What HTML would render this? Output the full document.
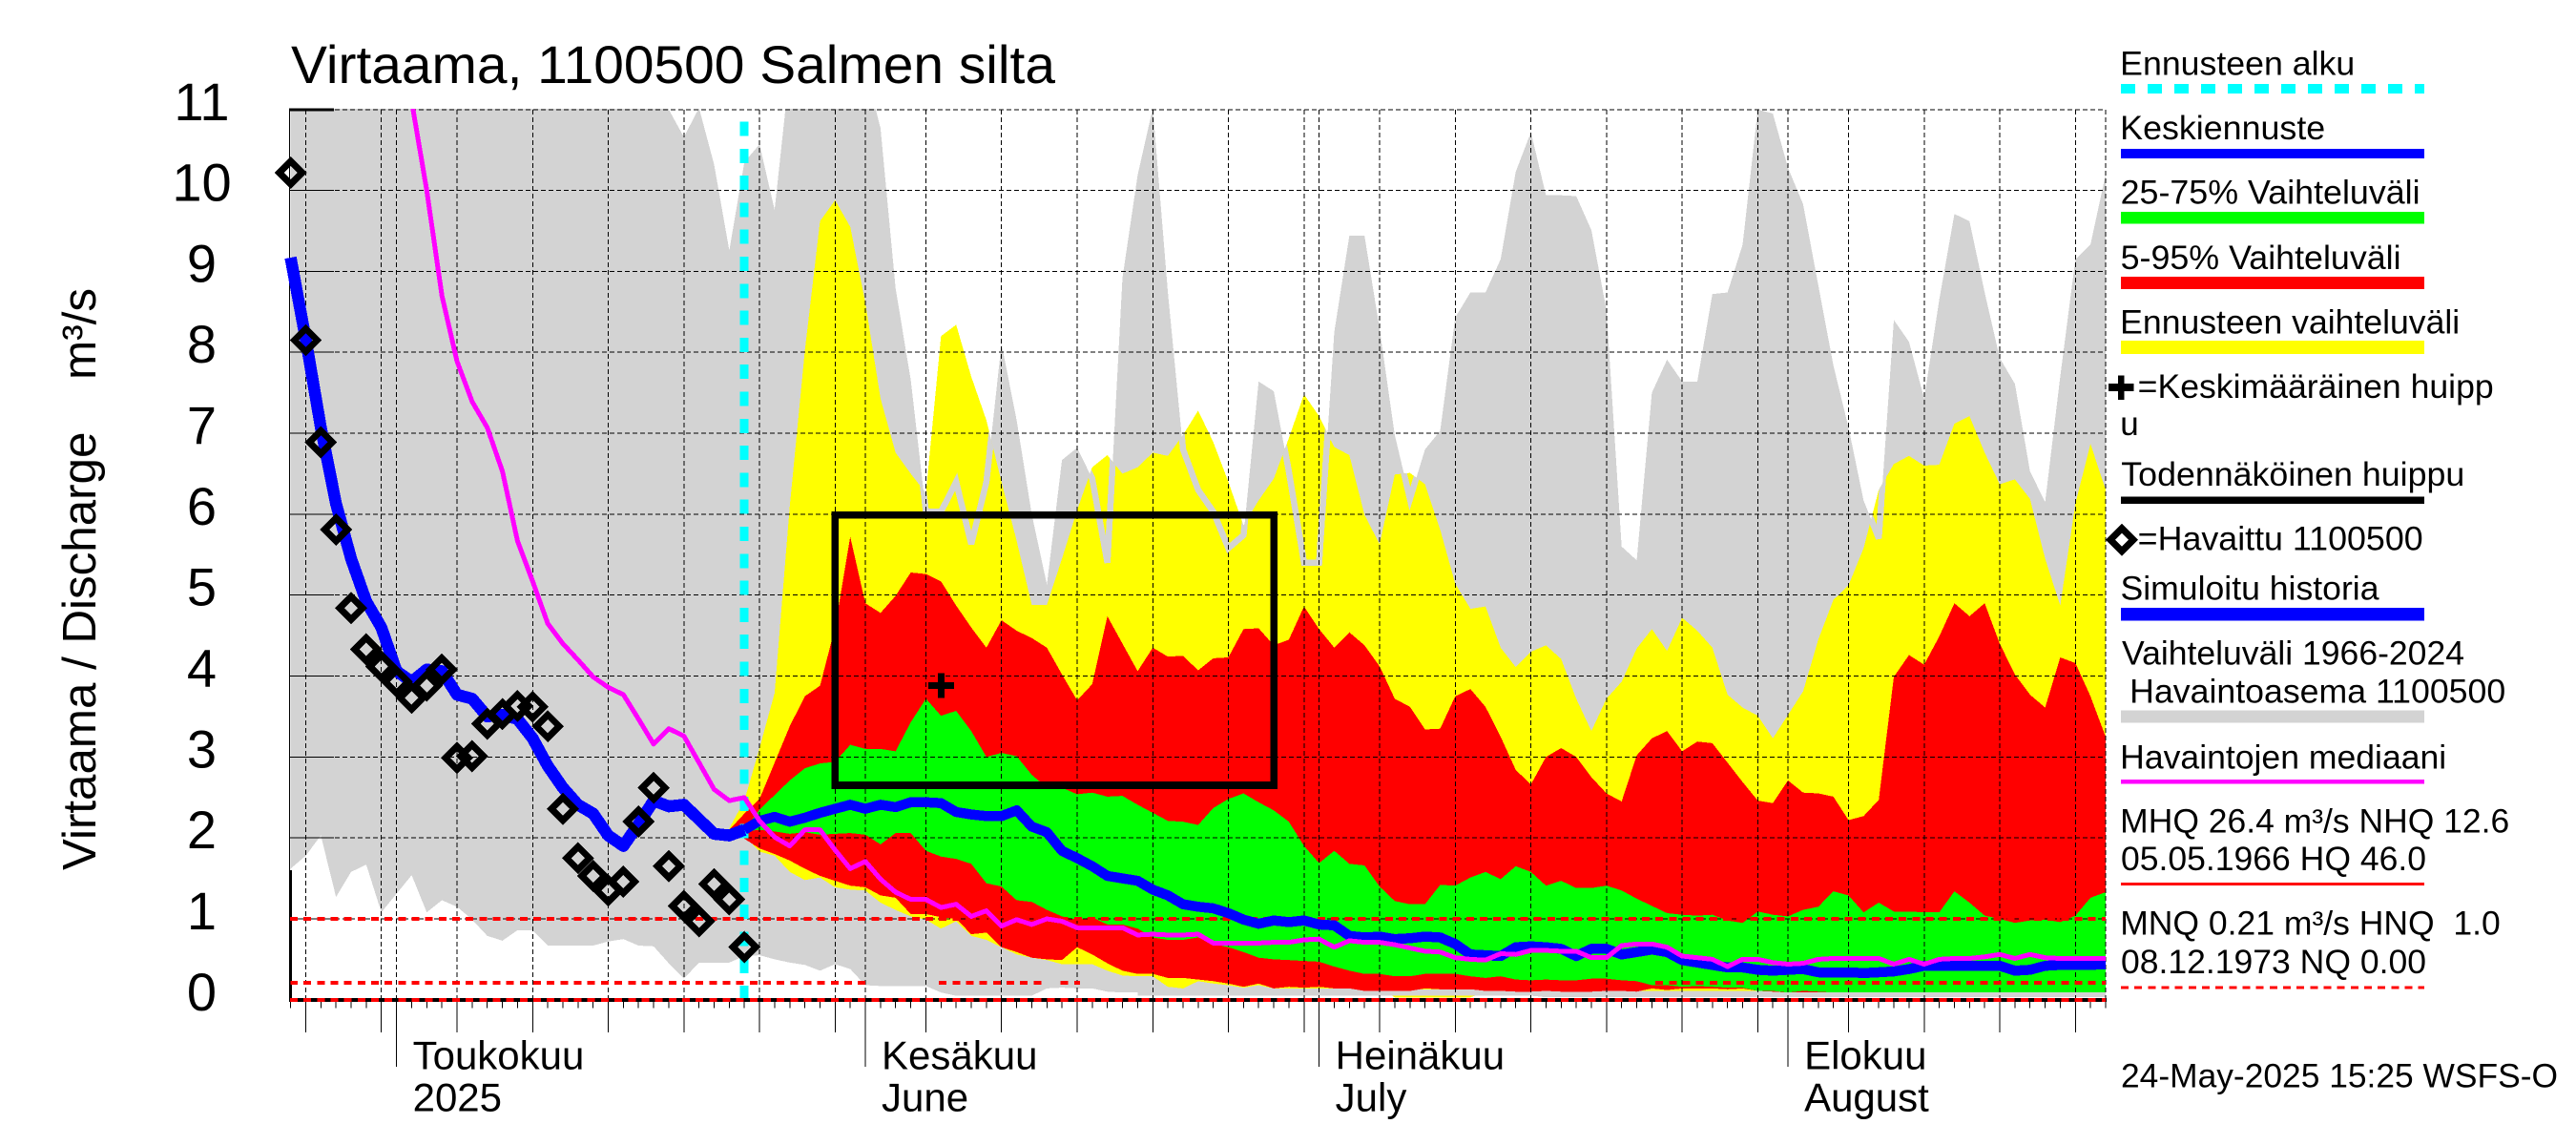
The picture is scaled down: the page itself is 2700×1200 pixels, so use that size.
<!DOCTYPE html>
<html lang="fi">
<head>
<meta charset="utf-8">
<title>Virtaama, 1100500 Salmen silta</title>
<style>
html,body{margin:0;padding:0;background:#fff;}
body{width:2700px;height:1200px;overflow:hidden;}
svg{display:block;}
text{font-family:"Liberation Sans",sans-serif;fill:#000;white-space:pre;}
.legend-text{font-size:35px;}
</style>
</head>
<body>
<svg id="chart" xmlns="http://www.w3.org/2000/svg" width="2700" height="1200" viewBox="0 0 2700 1200">
  <defs id="chart-defs">
    <clipPath id="plot-clip"><rect x="303" y="114" width="1905" height="937"/></clipPath>
  </defs>
  <rect x="0" y="0" width="2700" height="1200" fill="#fff"/>
  <g id="marks" clip-path="url(#plot-clip)" shape-rendering="crispEdges"></g>
  <g id="axes"></g>
  <g id="overlay" shape-rendering="crispEdges"></g>

  <text x="305" y="87" font-size="56" textLength="801" lengthAdjust="spacingAndGlyphs">Virtaama, 1100500 Salmen silta</text>
  <text transform="translate(100,912) rotate(-90)" font-size="49" textLength="610" lengthAdjust="spacingAndGlyphs">Virtaama / Discharge    m³/s</text>

  <g shape-rendering="crispEdges">
    <text class="legend-text" x="2222.2" y="78.5" textLength="246" lengthAdjust="spacingAndGlyphs">Ennusteen alku</text>
    <line x1="2223" x2="2541" y1="93" y2="93" stroke="#00ffff" stroke-width="10" stroke-dasharray="15 13"/>
    <text class="legend-text" x="2222.2" y="146" textLength="215" lengthAdjust="spacingAndGlyphs">Keskiennuste</text>
    <rect x="2223" y="156" width="318" height="10" fill="#0000ff"/>
    <text class="legend-text" x="2222.6" y="213.5" textLength="314" lengthAdjust="spacingAndGlyphs">25-75% Vaihteluväli</text>
    <rect x="2223" y="222" width="318" height="12.6" fill="#00ff00"/>
    <text class="legend-text" x="2222.6" y="282" textLength="294" lengthAdjust="spacingAndGlyphs">5-95% Vaihteluväli</text>
    <rect x="2223" y="290" width="318" height="13" fill="#ff0000"/>
    <text class="legend-text" x="2222.2" y="349.4" textLength="356" lengthAdjust="spacingAndGlyphs">Ennusteen vaihteluväli</text>
    <rect x="2223" y="357" width="318" height="13.8" fill="#ffff00"/>
    <path d="M2210 402.2h10v-8.8h6.7v8.8h10v7.6h-10v9.2h-6.7v-9.2h-10z" fill="#000"/>
    <text class="legend-text" x="2240.7" y="417" textLength="373" lengthAdjust="spacingAndGlyphs">=Keskimääräinen huipp</text>
    <text class="legend-text" x="2222.2" y="456">u</text>
    <text class="legend-text" x="2223.3" y="509" textLength="360" lengthAdjust="spacingAndGlyphs">Todennäköinen huippu</text>
    <rect x="2223" y="520.5" width="318" height="7.6" fill="#000"/>
    <polygon points="2224,553.6 2236,565.6 2224,577.6 2212,565.6" fill="none" stroke="#000" stroke-width="7"/>
    <text class="legend-text" x="2240.7" y="576.7" textLength="299" lengthAdjust="spacingAndGlyphs">=Havaittu 1100500</text>
    <text class="legend-text" x="2222.5" y="628.7" textLength="271" lengthAdjust="spacingAndGlyphs">Simuloitu historia</text>
    <rect x="2223" y="637" width="318" height="13.4" fill="#0000ff"/>
    <text class="legend-text" x="2224" y="696.4" textLength="359" lengthAdjust="spacingAndGlyphs">Vaihteluväli 1966-2024</text>
    <text class="legend-text" x="2232.2" y="736.6" textLength="394" lengthAdjust="spacingAndGlyphs">Havaintoasema 1100500</text>
    <rect x="2223" y="744.7" width="318" height="13" fill="#d3d3d3"/>
    <text class="legend-text" x="2222.2" y="805.5" textLength="342" lengthAdjust="spacingAndGlyphs">Havaintojen mediaani</text>
    <rect x="2223" y="817" width="318" height="4.6" fill="#ff00ff"/>
    <text class="legend-text" x="2222.2" y="872.5" textLength="408" lengthAdjust="spacingAndGlyphs">MHQ 26.4 m³/s NHQ 12.6</text>
    <text class="legend-text" x="2223" y="912" textLength="320" lengthAdjust="spacingAndGlyphs">05.05.1966 HQ 46.0</text>
    <rect x="2223" y="925" width="318" height="3" fill="#ff0000"/>
    <text class="legend-text" x="2222.2" y="979.6" textLength="398.6" lengthAdjust="spacingAndGlyphs">MNQ 0.21 m³/s HNQ  1.0</text>
    <text class="legend-text" x="2223" y="1019.8" textLength="320" lengthAdjust="spacingAndGlyphs">08.12.1973 NQ 0.00</text>
    <line x1="2223" x2="2541" y1="1035" y2="1035" stroke="#ff0000" stroke-width="3" stroke-dasharray="8 6.17"/>
    <text class="legend-text" x="2223" y="1139.6" textLength="458" lengthAdjust="spacingAndGlyphs">24-May-2025 15:25 WSFS-O</text>
  </g>
</svg>

<script>
// ---- Axis categories and ticks (day 0 = 1 May 2025) ----
const yTickValues = [0,1,2,3,4,5,6,7,8,9,10,11];
const monthDays = [0,31,61,92];
const monthLabelsFi = ['Toukokuu','Kesäkuu','Heinäkuu','Elokuu'];
const monthLabelsEn = ['2025','June','July','August'];
const gridDays = [-6,-1,4,9,14,19,24,29,35,40,45,50,55,60,65,70,75,80,85,90,96,101,106,111];
const firstHistoryDay = -7;
const lastDay = 113;
const firstBandDay = 22;
const forecastStartDay = 23;
const bottomEdgeFirstDay = 49;

// ---- Long-term range 1966-2024, from day -7 ----
const grayTop = [
 11.5,11.5,11.5,11.5,11.5,11.5,11.5,11.5,11.5,11.5,
 11.5,11.5,11.5,11.5,11.5,11.5,11.5,11.5,11.5,11.5,
 11.5,11.5,11.5,11.5,11.5,11.0,10.66,11.02,10.32,9.26,
 10.35,10.57,9.76,11.5,11.5,11.5,11.5,11.5,11.5,10.77,
 8.79,7.66,6.03,6.03,6.4,5.63,6.4,8.11,7.16,6.0,
 5.13,6.67,6.82,6.44,5.4,8.92,10.19,11.02,8.74,6.8,
 6.3,6.03,5.58,5.74,7.64,7.52,6.53,5.4,5.4,8.25,
 9.44,9.44,8.29,6.98,6.19,6.8,7.03,8.43,8.74,8.74,
 9.15,10.23,10.72,9.94,9.94,9.93,9.51,8.52,5.6,5.43,
 7.5,7.91,7.64,7.64,8.72,8.74,9.33,11.0,10.95,10.28,
 9.83,8.83,7.84,7.07,6.17,5.7,8.4,8.13,7.43,8.65,
 9.71,9.62,8.74,7.93,7.61,6.53,6.15,7.7,9.15,9.33,
 10.2];
const grayBottom = [
 1.62,1.78,2.03,1.27,1.58,1.67,1.08,1.31,1.54,1.08,
 1.23,1.15,0.99,0.79,0.73,0.86,0.86,0.67,0.67,0.67,
 0.67,0.72,0.75,0.67,0.66,0.45,0.26,0.46,0.46,0.46,
 0.54,0.55,0.5,0.46,0.43,0.36,0.44,0.38,0.18,0.17,
 0.17,0.17,0.17,0.09,0.05,0.05,0.05,0.05,0.05,0.05,
 0.14,0.15,0.14,0.14,0.1,0.09,0.09,0.09,0.09,0.09,
 0.09,0.09,0.09,0.09,0.09,0.09,0.09,0.09,0.09,0.09,
 0.09,0.09,0.09,0.09,0.09,0.09,0.09,0.09,0.09,0.09,
 0.09,0.09,0.09,0.07,0.07,0.07,0.07,0.07,0.07,0.07,
 0.07,0.07,0.07,0.07,0.07,0.07,0.07,0.07,0.07,0.07,
 0.07,0.07,0.07,0.07,0.07,0.07,0.07,0.07,0.07,0.07,
 0.07,0.07,0.07,0.07,0.07,0.07,0.07,0.07,0.07,0.07,
 0.07];

// ---- Forecast bands, from day 22 ----
const yellowTop = [
 2.12,2.46,3.11,3.79,6.1,8.02,9.62,9.88,9.55,8.61,
 7.43,6.76,6.5,6.26,8.2,8.34,7.7,7.16,6.4,5.67,
 4.88,4.88,5.45,6.05,6.58,6.73,6.5,6.58,6.76,6.72,
 6.98,7.28,6.89,6.4,5.86,6.17,6.44,6.94,7.48,7.21,
 6.83,6.73,5.99,5.63,6.49,6.51,6.37,5.81,5.14,4.83,
 4.86,4.35,4.11,4.3,4.38,4.21,3.72,3.32,3.72,3.93,
 4.34,4.58,4.31,4.72,4.56,4.35,3.77,3.61,3.51,3.23,
 3.52,3.81,4.45,4.94,5.12,5.58,6.3,6.62,6.72,6.6,
 6.61,7.12,7.21,6.76,6.37,6.43,6.19,5.45,4.87,6.13,
 6.87,6.3];
const yellowBottom = [
 2.1,2.03,1.83,1.78,1.58,1.48,1.51,1.39,1.36,1.35,
 1.2,1.11,1.03,0.99,0.88,0.97,0.79,0.74,0.65,0.56,
 0.52,0.49,0.44,0.44,0.44,0.36,0.3,0.29,0.29,0.16,
 0.14,0.23,0.2,0.18,0.15,0.18,0.14,0.14,0.14,0.14,
 0.14,0.14,0.14,0.14,0.03,0.03,0.03,0.03,0.03,0.03,
 0.1,0.1,0.1,0.1,0.1,0.1,0.1,0.1,0.1,0.1,
 0.1,0.1,0.1,0.1,0.1,0.1,0.1,0.1,0.1,0.1,
 0.09,0.09,0.09,0.09,0.09,0.09,0.09,0.09,0.09,0.09,
 0.09,0.09,0.09,0.09,0.09,0.09,0.09,0.09,0.09,0.09,
 0.09,0.09];
const redTop = [
 2.1,2.3,2.48,2.93,3.38,3.75,3.88,4.6,5.72,4.9,
 4.78,4.99,5.28,5.26,5.17,4.87,4.6,4.35,4.69,4.56,
 4.47,4.35,4.02,3.7,3.9,4.74,4.4,4.06,4.35,4.24,
 4.25,4.07,4.22,4.23,4.58,4.59,4.38,4.45,4.86,4.58,
 4.35,4.54,4.38,4.12,3.72,3.62,3.34,3.35,3.75,3.84,
 3.62,3.25,2.84,2.66,3.0,3.11,3.0,2.75,2.55,2.45,
 3.02,3.23,3.32,3.07,3.19,3.17,2.93,2.69,2.46,2.43,
 2.71,2.56,2.55,2.51,2.22,2.27,2.47,3.99,4.26,4.14,
 4.49,4.9,4.74,4.9,4.4,4.02,3.77,3.61,4.23,4.16,
 3.75,3.25];
const redBottom = [
 2.1,1.99,1.87,1.8,1.72,1.62,1.53,1.47,1.41,1.39,
 1.29,1.26,1.06,1.06,1.02,1.0,0.81,0.83,0.65,0.59,
 0.52,0.5,0.49,0.65,0.56,0.45,0.36,0.32,0.32,0.27,
 0.27,0.25,0.23,0.2,0.16,0.2,0.14,0.16,0.15,0.16,
 0.14,0.14,0.11,0.11,0.11,0.11,0.14,0.13,0.13,0.13,
 0.11,0.11,0.1,0.1,0.11,0.1,0.1,0.1,0.11,0.11,
 0.1,0.14,0.12,0.14,0.14,0.14,0.13,0.14,0.11,0.1,
 0.09,0.09,0.09,0.09,0.09,0.09,0.09,0.09,0.09,0.09,
 0.09,0.09,0.09,0.09,0.09,0.09,0.09,0.09,0.09,0.09,
 0.09,0.09];
const greenTop = [
 2.08,2.1,2.35,2.53,2.71,2.86,2.92,2.94,3.15,3.1,
 3.1,3.07,3.43,3.72,3.51,3.57,3.32,3.0,3.05,3.01,
 2.78,2.62,2.62,2.54,2.56,2.51,2.52,2.41,2.31,2.21,
 2.2,2.16,2.37,2.48,2.55,2.44,2.34,2.2,1.9,1.69,
 1.84,1.68,1.66,1.4,1.22,1.18,1.18,1.42,1.41,1.51,
 1.58,1.49,1.65,1.58,1.41,1.47,1.38,1.38,1.41,1.35,
 1.25,1.16,1.07,1.05,1.04,1.05,0.98,0.95,1.09,1.05,
 1.03,1.11,1.15,1.34,1.29,1.08,1.2,1.09,1.09,1.08,
 1.08,1.34,1.2,1.04,1.0,0.95,0.98,0.99,0.96,1.04,
 1.26,1.33];
const greenBottom = [
 2.08,2.08,2.1,2.08,2.05,2.07,2.04,2.05,2.06,2.04,
 1.92,2.06,2.06,1.84,1.77,1.74,1.68,1.44,1.4,1.23,
 1.21,1.11,1.03,0.99,1.02,0.93,0.93,0.88,0.77,0.74,
 0.74,0.77,0.69,0.65,0.59,0.52,0.5,0.49,0.48,0.47,
 0.41,0.36,0.32,0.32,0.29,0.29,0.32,0.32,0.32,0.29,
 0.27,0.29,0.25,0.24,0.25,0.24,0.24,0.26,0.26,0.24,
 0.23,0.18,0.18,0.16,0.17,0.16,0.15,0.15,0.11,0.11,
 0.09,0.11,0.1,0.09,0.09,0.09,0.09,0.09,0.09,0.09,
 0.09,0.09,0.09,0.09,0.09,0.09,0.09,0.09,0.09,0.09,
 0.09,0.09];

// ---- Lines ----
const simulatedHistory = [
 9.17,8.16,7.07,6.13,5.45,4.92,4.6,4.06,3.93,4.08,
 4.06,3.77,3.72,3.5,3.52,3.47,3.23,2.89,2.62,2.41,
 2.3,2.03,1.9,2.17,2.46,2.39,2.41,2.23,2.05,2.03,
 2.1];
const meanForecast = [
 2.1,2.21,2.26,2.2,2.25,2.31,2.36,2.41,2.36,2.41,
 2.38,2.44,2.44,2.43,2.32,2.29,2.27,2.27,2.34,2.14,
 2.07,1.84,1.75,1.65,1.53,1.5,1.47,1.36,1.29,1.18,
 1.15,1.13,1.07,0.99,0.94,0.98,0.96,0.98,0.93,0.92,
 0.79,0.77,0.78,0.75,0.76,0.78,0.77,0.69,0.56,0.55,
 0.54,0.65,0.66,0.65,0.63,0.54,0.63,0.63,0.56,0.59,
 0.62,0.59,0.49,0.46,0.43,0.4,0.4,0.37,0.36,0.37,
 0.38,0.34,0.34,0.34,0.33,0.34,0.35,0.38,0.42,0.42,
 0.42,0.42,0.42,0.42,0.36,0.37,0.42,0.43,0.43,0.43,
 0.44];
const firstMedianDay = 1;
const observedMedian = [
 11.1,10.0,8.7,7.89,7.39,7.07,6.53,5.67,5.17,4.65,
 4.4,4.2,3.99,3.86,3.77,3.47,3.16,3.35,3.26,2.93,
 2.6,2.46,2.5,2.21,2.01,1.9,2.1,2.1,1.85,1.62,
 1.71,1.49,1.33,1.24,1.24,1.14,1.18,1.03,1.1,0.91,
 0.99,0.93,1.0,0.97,0.89,0.89,0.89,0.89,0.8,0.81,
 0.8,0.8,0.81,0.7,0.7,0.7,0.7,0.71,0.71,0.74,
 0.75,0.65,0.73,0.71,0.71,0.68,0.64,0.6,0.59,0.52,
 0.5,0.49,0.57,0.56,0.61,0.61,0.6,0.6,0.52,0.52,
 0.67,0.69,0.69,0.65,0.54,0.52,0.5,0.41,0.5,0.5,
 0.46,0.44,0.45,0.5,0.51,0.51,0.51,0.51,0.44,0.5,
 0.44,0.5,0.51,0.51,0.53,0.56,0.51,0.56,0.52,0.51,
 0.51,0.51,0.51];
const observed = [
 10.22,8.15,6.89,5.81,4.84,4.33,4.12,3.93,3.73,3.88,
 4.08,2.99,3.01,3.41,3.53,3.63,3.62,3.38,2.36,1.75,
 1.53,1.35,1.46,2.2,2.62,1.65,1.16,0.97,1.43,1.24,
 0.65];

// ---- Reference levels and peak estimates ----
const hnqValue = 1.0;
const mnqValue = 0.21;
const nqValue = 0.0;
const mnqVisibleFrom = [-7,35.8,43.9,83.2];
const mnqVisibleTo = [31,42.7,45.2,113];
const meanPeakDay = 36;
const meanPeakValue = 3.88;
const likelyPeakDays = [29,58];
const likelyPeakValues = [2.65,5.99];

// ---- Axis functions ----
const xOf = d => 415.6 + 15.853 * d;
const yOf = v => 1047.8 - 84.82 * v;

const SVG = 'http://www.w3.org/2000/svg';
const marks = document.getElementById('marks');
const axes = document.getElementById('axes');
const overlay = document.getElementById('overlay');
const defsEl = document.getElementById('chart-defs');
function make(parent, tag, attrs) {
  const el = document.createElementNS(SVG, tag);
  for (const k in attrs) el.setAttribute(k, attrs[k]);
  parent.appendChild(el);
  return el;
}
function seriesPoints(values, first) {
  return values.map((v, i) => xOf(first + i).toFixed(1) + ',' + yOf(v).toFixed(1));
}
function bandPoints(top, bottom, first) {
  return seriesPoints(top, first).concat(seriesPoints(bottom, first).reverse()).join(' ');
}
let el;

// Long-term range
el = make(marks, 'polygon', {points: bandPoints(grayTop, grayBottom, firstHistoryDay), fill: '#d3d3d3'});



// Forecast range
const yellowPolygonPoints = bandPoints(yellowTop, yellowBottom, firstBandDay);
el = make(marks, 'polygon', {points: yellowPolygonPoints, fill: '#ffff00'});



const yellowClip = make(defsEl, 'clipPath', {id: 'yellow-clip'});
make(yellowClip, 'polygon', {points: yellowPolygonPoints});

// Edges of the long-term range are stroked over the forecast range
el = make(marks, 'polyline', {points: seriesPoints(grayTop, firstHistoryDay).join(' '), fill: 'none', stroke: '#d3d3d3', 'stroke-width': 6.5, 'clip-path': 'url(#yellow-clip)'});


el = make(marks, 'polyline', {points: seriesPoints(grayBottom.slice(bottomEdgeFirstDay - firstHistoryDay), bottomEdgeFirstDay).join(' '), fill: 'none', stroke: '#d3d3d3', 'stroke-width': 6.5});



el = make(marks, 'polygon', {points: bandPoints(redTop, redBottom, firstBandDay), fill: '#ff0000'});



el = make(marks, 'polygon', {points: bandPoints(greenTop, greenBottom, firstBandDay), fill: '#00ff00'});



// Horizontal gridlines
yTickValues.forEach(v => {
  const g = make(marks, 'line', {x1: 303, x2: 2207, y1: yOf(v), y2: yOf(v), stroke: '#000', 'stroke-width': 1, 'stroke-dasharray': '5 3'});
  
  
});
// Vertical gridlines
gridDays.concat(monthDays).concat([lastDay]).forEach(d => {
  const g = make(marks, 'line', {x1: xOf(d), x2: xOf(d), y1: yOf(11), y2: yOf(0), stroke: '#000', 'stroke-width': 1, 'stroke-dasharray': '5 3'});
  
  
});

// Forecast start
el = make(marks, 'line', {x1: xOf(forecastStartDay), x2: xOf(forecastStartDay), y1: 127.5, y2: 1048, stroke: '#00ffff', 'stroke-width': 9, 'stroke-dasharray': '15 13.3'});



// Left axis
el = make(axes, 'line', {x1: 303.5, x2: 303.5, y1: yOf(11), y2: 912, stroke: '#000', 'stroke-width': 1.2, 'shape-rendering': 'crispEdges'});


el = make(axes, 'line', {x1: 304.5, x2: 304.5, y1: 912, y2: 1050, stroke: '#000', 'stroke-width': 2.6, 'shape-rendering': 'crispEdges'});



// Y ticks and labels
yTickValues.forEach(v => {
  const isEdge = (v === 11 || v === 0);
  const t = make(axes, 'line', {x1: 303, x2: 350, y1: yOf(v), y2: yOf(v), stroke: '#000', 'stroke-width': isEdge ? 3 : 1, 'shape-rendering': 'crispEdges'});
  
  
  const label = make(axes, 'text', {x: 211.5, y: yOf(v) + 11, 'font-size': 56, 'text-anchor': 'middle'});
  label.textContent = String(v);
  
  
});

// Bottom axis line
el = make(axes, 'line', {x1: 303, x2: 2208, y1: 1048, y2: 1048, stroke: '#000', 'stroke-width': 4, 'shape-rendering': 'crispEdges'});



// X ticks
for (let d = firstHistoryDay; d <= lastDay; d++) {
  const t = make(axes, 'line', {x1: xOf(d), x2: xOf(d), y1: yOf(0), y2: 1056.7, stroke: '#000', 'stroke-width': 1, 'shape-rendering': 'crispEdges'});
  
  
}
gridDays.forEach(d => {
  const t = make(axes, 'line', {x1: xOf(d), x2: xOf(d), y1: yOf(0), y2: 1082, stroke: '#000', 'stroke-width': 1, 'shape-rendering': 'crispEdges'});
  
  
});
monthDays.forEach((d, i) => {
  const t = make(axes, 'line', {x1: xOf(d), x2: xOf(d), y1: yOf(0), y2: 1118, stroke: '#000', 'stroke-width': 1, 'shape-rendering': 'crispEdges'});
  
  
  const fi = make(axes, 'text', {x: xOf(d) + 17, y: 1120.5, 'font-size': 42});
  fi.textContent = monthLabelsFi[i];
  
  
  const en = make(axes, 'text', {x: xOf(d) + 17, y: 1164.5, 'font-size': 42});
  en.textContent = monthLabelsEn[i];
  
  
});

// Reference levels
el = make(overlay, 'line', {x1: 304, x2: 2207, y1: yOf(hnqValue), y2: yOf(hnqValue), stroke: '#ff0000', 'stroke-width': 4, 'stroke-dasharray': '8 6.17'});


mnqVisibleFrom.forEach((from, i) => {
  const s = make(overlay, 'line', {x1: xOf(from), x2: xOf(mnqVisibleTo[i]), y1: yOf(mnqValue), y2: yOf(mnqValue), stroke: '#ff0000', 'stroke-width': 4, 'stroke-dasharray': '8 6.17', 'stroke-dashoffset': xOf(from) - 304});
  
  
});
el = make(overlay, 'line', {x1: 304, x2: 2207, y1: 1048, y2: 1048, stroke: '#ff0000', 'stroke-width': 4, 'stroke-dasharray': '8 6.17'});



// Blue lines
el = make(overlay, 'polyline', {points: seriesPoints(simulatedHistory, firstHistoryDay).join(' '), fill: 'none', stroke: '#0000ff', 'stroke-width': 12.5, 'stroke-linejoin': 'round'});


el = make(overlay, 'polyline', {points: seriesPoints(meanForecast, forecastStartDay).join(' '), fill: 'none', stroke: '#0000ff', 'stroke-width': 10.5, 'stroke-linejoin': 'round'});



// Median line
const medianGroupClip = document.createElementNS(SVG, 'g');
medianGroupClip.setAttribute('clip-path', 'url(#plot-clip)');


overlay.appendChild(medianGroupClip);
el = make(medianGroupClip, 'polyline', {points: seriesPoints(observedMedian, firstMedianDay).join(' '), fill: 'none', stroke: '#ff00ff', 'stroke-width': 5, 'stroke-linejoin': 'round'});



// Observed discharge diamonds
observed.forEach((v, i) => {
  const cx = xOf(firstHistoryDay + i), cy = yOf(v);
  const p = make(overlay, 'polygon', {points: [cx, cy - 12, cx + 12, cy, cx, cy + 12, cx - 12, cy].join(' '), fill: 'none', stroke: '#000', 'stroke-width': 7});
  
  
});

// Likely peak box
el = make(overlay, 'rect', {
  x: xOf(likelyPeakDays[0]), y: yOf(likelyPeakValues[1]),
  width: xOf(likelyPeakDays[1]) - xOf(likelyPeakDays[0]),
  height: yOf(likelyPeakValues[0]) - yOf(likelyPeakValues[1]),
  fill: 'none', stroke: '#000', 'stroke-width': 7.6
});



// Mean peak marker
const px = xOf(meanPeakDay), py = yOf(meanPeakValue);
el = make(overlay, 'path', {d: `M${px-13.5} ${py-3.5}h10v-9.5h7v9.5h10v7h-10v9.5h-7v-9.5h-10z`, fill: '#000'});


</script>
</body>
</html>
